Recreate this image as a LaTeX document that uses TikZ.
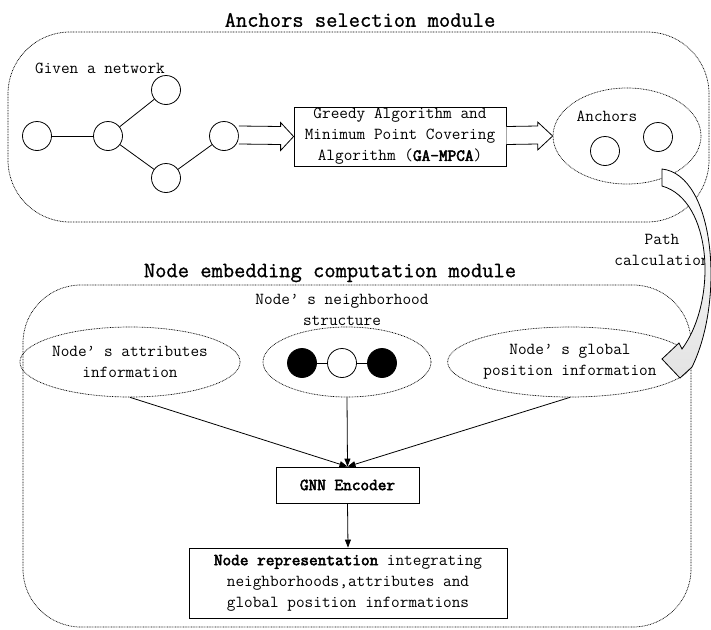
\documentclass[tikz,border=0pt]{standalone}
\usepackage{fontspec}
\setmainfont{Latin Modern Mono}[AutoFakeBold=3]
\newfontfamily\headfont{Latin Modern Mono}[FakeBold=1]
\usetikzlibrary{shapes.geometric,arrows.meta,calc}

\begin{document}
\begin{tikzpicture}[x=1pt,y=-1pt,
  every node/.style={font=\fontsize{16.8}{21}\selectfont, inner sep=0pt},
  title/.style={font=\headfont\fontsize{21.9}{24}\selectfont},
  module/.style={draw, line width=0.7pt, dash pattern=on 0.8pt off 0.8pt},
  dotell/.style={ellipse, draw, line width=0.7pt, dash pattern=on 0.8pt off 0.8pt, align=center},
  vert/.style={circle, draw, line width=0.8pt, minimum size=29pt},
  plainbox/.style={rectangle, draw, line width=0.8pt, align=center},
  edge/.style={line width=0.8pt},
  feed/.style={line width=0.8pt, -{Triangle[length=8pt,width=6pt]}},
  blockarrow/.style={draw, line width=0.8pt, fill=white, line join=miter}
]
\useasboundingbox (0,0) rectangle (711,629);
\fill[white] (0,0) rectangle (711,629);

% ---------------- anchors selection module ----------------
\node[title] (t1) at (360,20) {Anchors selection module};
\draw[module, rounded corners=62pt] (8,32) rectangle (709,222);

\node (given) at (100,68) {Given a network};
\node[vert] (v1) at (37,136) {};
\node[vert] (v2) at (108,136) {};
\node[vert] (v3) at (166,90) {};
\node[vert] (v4) at (166,178) {};
\node[vert] (v5) at (224,136) {};
\draw[edge] (v1) -- (v2);
\draw[edge] (v2) -- (v3);
\draw[edge] (v2) -- (v4);
\draw[edge] (v4) -- (v5);

\node[plainbox, minimum width=212pt, minimum height=59pt] (algo) at (400,136.5)
  {Greedy Algorithm and\\Minimum Point Covering\\Algorithm (\textbf{GA-MPCA})};

\node[dotell, minimum width=148pt, minimum height=96pt] (anch) at (627,136) {};
\node (anchtxt) at (607,116) {Anchors};
\node[vert] (a1) at (605,151) {};
\node[vert] (a2) at (658,137) {};

% hollow block arrows between the stages
\draw[blockarrow] ($(v5.east)+(0,-10)$) -- ($(algo.west)+(-13,-10)$) -- ($(algo.west)+(-13,-14)$)
  -- (algo.west) -- ($(algo.west)+(-13,14)$) -- ($(algo.west)+(-13,8)$) -- ($(v5.east)+(0,8)$);
\draw[blockarrow] ($(algo.east)+(0,-10)$) -- ($(anch.west)+(-15,-10)$) -- ($(anch.west)+(-15,-14)$)
  -- (anch.west) -- ($(anch.west)+(-15,14)$) -- ($(anch.west)+(-15,8)$) -- ($(algo.east)+(0,8)$);

% ---------------- node embedding computation module ----------------
\node[title] (t2) at (330,273) {Node embedding computation module};
\draw[module, rounded corners=58pt] (23,285) rectangle (691,627);

\node[align=center] (nbtxt) at (342,310) {Node’ s neighborhood\\structure};

\node[dotell, minimum width=214pt, minimum height=70pt] (attr) at (130,362)
  {Node’ s attributes\\information};
\node[dotell, minimum width=168pt, minimum height=70pt] (nbh) at (347,362) {};
\node[dotell, minimum width=220pt, minimum height=70pt] (glob) at (570,362)
  {Node’ s global\\position information};

\node[vert, fill=black] (n1) at (302,363) {};
\node[vert] (n2) at (342,363) {};
\node[vert, fill=black] (n3) at (382,363) {};
\draw[edge] (n1) -- (n2);
\draw[edge] (n2) -- (n3);

\node[plainbox, minimum width=143pt, minimum height=36pt, font=\fontsize{16.8}{21}\selectfont\bfseries]
  (gnn) at (347.5,485) {GNN Encoder};
\node[plainbox, minimum width=318pt, minimum height=70pt] (rep) at (348,583)
  {\textbf{Node representation} integrating\\neighborhoods,attributes and\\global position informations};

\draw[feed] (attr.south) -- (gnn.north);
\draw[feed] (nbh.south) -- (gnn.north);
\draw[feed] (glob.south) -- (gnn.north);
\draw[feed] (gnn.south) -- (rep.north);

% ---------------- curved arrow: path calculation ----------------
\node[align=center] (pathtxt) at (662,250) {Path\\calculation};
\coordinate (cs1) at (662,169);
\coordinate (cs2) at (662,186);
\coordinate (tip) at (662,359);
\draw[line width=0.8pt, line join=miter, top color=white, bottom color=gray!22]
  (cs1) .. controls (715,175) and (725,300) .. (692,367)
  -- (680,378) -- (tip) -- (679,343) -- (682,349)
  .. controls (718,300) and (712,200) .. (cs2) -- cycle;
\end{tikzpicture}
\end{document}
